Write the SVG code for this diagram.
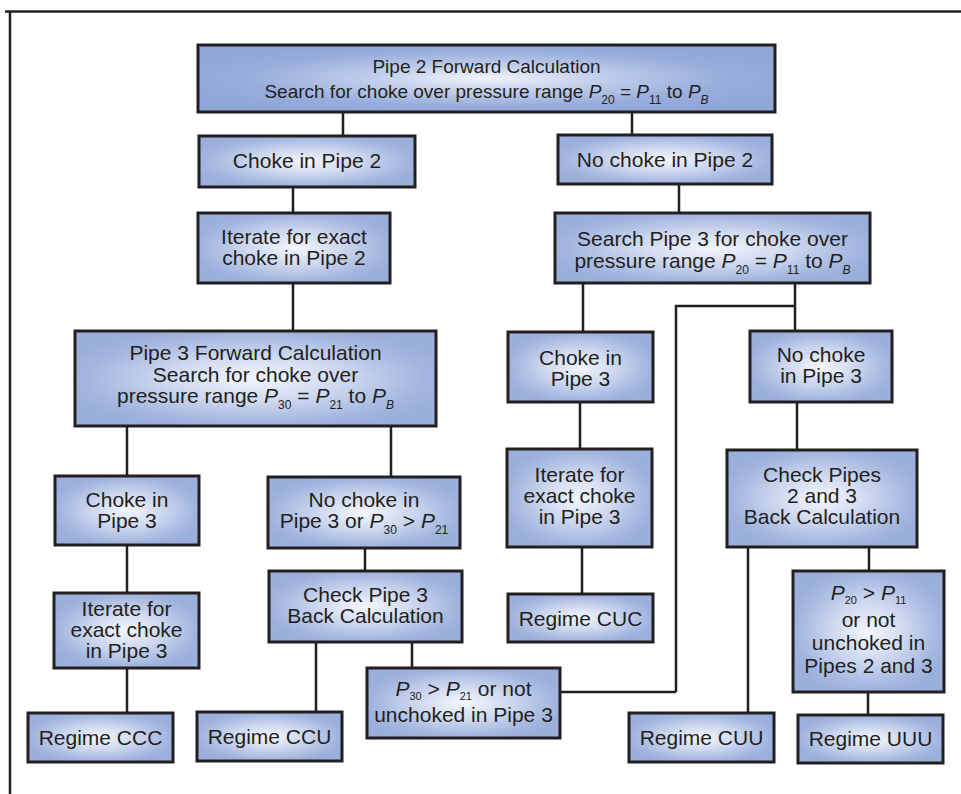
<svg xmlns="http://www.w3.org/2000/svg" width="961" height="794" viewBox="0 0 961 794">
<defs>
<radialGradient id="g" cx="0.5" cy="0.5" r="0.55">
<stop offset="0" stop-color="#f4f6fd"/>
<stop offset="0.45" stop-color="#cdd7ef"/>
<stop offset="0.85" stop-color="#a3b6df"/>
<stop offset="1" stop-color="#9aafdb"/>
</radialGradient>
<radialGradient id="gt" cx="0.5" cy="0.5" r="0.55">
<stop offset="0" stop-color="#f2f4fc"/>
<stop offset="0.35" stop-color="#c2cfec"/>
<stop offset="0.75" stop-color="#98addb"/>
<stop offset="1" stop-color="#91a7d6"/>
</radialGradient>
</defs>
<style>
.box{fill:url(#g);stroke:#231f20;stroke-width:3}
.top{fill:url(#gt)}
.ln{fill:none;stroke:#231f20;stroke-width:2.5}
text{font-family:"Liberation Sans",Arial,sans-serif;font-size:21px;fill:#231f20;text-anchor:middle}
.t19{font-size:19px}
.i{font-style:italic}
.s{font-size:12px}
.ss{font-size:11px}
</style>
<rect width="961" height="794" fill="#fff"/>
<g id="frame"><path class="ln" d="M5,11.5H961M10,11V794"/></g>
<g id="connectors">
<path class="ln" d="M343,112V136M632,112V135M293,187V213M679,184V213M293,283V331M583,283V332M795,283V331M676,692V306H795M676,692H560M127,426V476M391,426V477M580,402V449M797,402V450M127,545V593M365,548V571M127,668V713M316,642V712M412,642V668M582,547V594M748,547V713M869,547V571M868,692V715"/>
</g>
<g id="n1"><rect class="box top" x="198" y="45" width="577" height="67"/>
<text class="t19" x="486.5" y="73">Pipe 2 Forward Calculation</text>
<text class="t19" x="486.5" y="98">Search for choke over pressure range <tspan class="i">P</tspan><tspan class="s" dy="6">20</tspan><tspan dy="-6"> = </tspan><tspan class="i">P</tspan><tspan class="s" dy="6">11</tspan><tspan dy="-6"> to </tspan><tspan class="i">P</tspan><tspan class="s i" dy="6">B</tspan></text></g>
<g id="n2"><rect class="box" x="199" y="136" width="216" height="51"/><text x="307" y="168">Choke in Pipe 2</text></g>
<g id="n3"><rect class="box" x="558" y="135" width="214" height="49"/><text x="665" y="167">No choke in Pipe 2</text></g>
<g id="n4"><rect class="box" x="198" y="213" width="192" height="70"/><text x="294" y="244">Iterate for exact</text><text x="294" y="265">choke in Pipe 2</text></g>
<g id="n5"><rect class="box" x="555" y="213" width="315" height="70"/><text x="712.5" y="246">Search Pipe 3 for choke over</text>
<text x="712.5" y="268">pressure range <tspan class="i">P</tspan><tspan class="s" dy="6">20</tspan><tspan dy="-6"> = </tspan><tspan class="i">P</tspan><tspan class="s" dy="6">11</tspan><tspan dy="-6"> to </tspan><tspan class="i">P</tspan><tspan class="s i" dy="6">B</tspan></text></g>
<g id="n6"><rect class="box" x="75" y="331" width="361" height="95"/><text x="255.5" y="360">Pipe 3 Forward Calculation</text><text x="255.5" y="382">Search for choke over</text>
<text x="255.5" y="403">pressure range <tspan class="i">P</tspan><tspan class="s" dy="6">30</tspan><tspan dy="-6"> = </tspan><tspan class="i">P</tspan><tspan class="s" dy="6">21</tspan><tspan dy="-6"> to </tspan><tspan class="i">P</tspan><tspan class="s i" dy="6">B</tspan></text></g>
<g id="n7"><rect class="box" x="55" y="476" width="144" height="69"/><text x="127" y="507">Choke in</text><text x="127" y="528">Pipe 3</text></g>
<g id="n8"><rect class="box" x="268" y="477" width="192" height="71"/><text x="364" y="507">No choke in</text>
<text x="364" y="528">Pipe 3 or <tspan class="i">P</tspan><tspan class="s" dy="6">30</tspan><tspan dy="-6"> &gt; </tspan><tspan class="i">P</tspan><tspan class="s" dy="6">21</tspan></text></g>
<g id="n9"><rect class="box" x="54" y="593" width="145" height="75"/><text x="126.5" y="616">Iterate for</text><text x="126.5" y="637">exact choke</text><text x="126.5" y="658">in Pipe 3</text></g>
<g id="n10"><rect class="box" x="28" y="713" width="145" height="49"/><text x="100.5" y="745">Regime CCC</text></g>
<g id="n11"><rect class="box" x="269" y="571" width="193" height="71"/><text x="365.5" y="602">Check Pipe 3</text><text x="365.5" y="623">Back Calculation</text></g>
<g id="n12"><rect class="box" x="197" y="712" width="145" height="49"/><text x="269.5" y="744">Regime CCU</text></g>
<g id="n13"><rect class="box" x="367" y="668" width="193" height="70"/>
<text x="463.5" y="696"><tspan class="i">P</tspan><tspan class="ss" dy="4">30</tspan><tspan dy="-4"> &gt; </tspan><tspan class="i">P</tspan><tspan class="ss" dy="4">21</tspan><tspan dy="-4"> or not</tspan></text>
<text x="463.5" y="722">unchoked in Pipe 3</text></g>
<g id="n14"><rect class="box" x="508" y="332" width="145" height="70"/><text x="580.5" y="365">Choke in</text><text x="580.5" y="386">Pipe 3</text></g>
<g id="n15"><rect class="box" x="507" y="449" width="145" height="98"/><text x="579.5" y="482">Iterate for</text><text x="579.5" y="503">exact choke</text><text x="579.5" y="524">in Pipe 3</text></g>
<g id="n16"><rect class="box" x="508" y="594" width="145" height="48"/><text x="580.5" y="626">Regime CUC</text></g>
<g id="n17"><rect class="box" x="750" y="331" width="142" height="71"/><text x="821" y="362">No choke</text><text x="821" y="383">in Pipe 3</text></g>
<g id="n18"><rect class="box" x="727" y="450" width="190" height="97"/><text x="822" y="482">Check Pipes</text><text x="822" y="503">2 and 3</text><text x="822" y="524">Back Calculation</text></g>
<g id="n19"><rect class="box" x="793" y="571" width="151" height="121"/>
<text x="868.5" y="600"><tspan class="i">P</tspan><tspan class="ss" dy="4">20</tspan><tspan dy="-4"> &gt; </tspan><tspan class="i">P</tspan><tspan class="ss" dy="4">11</tspan></text>
<text x="868.5" y="627">or not</text><text x="868.5" y="650">unchoked in</text><text x="868.5" y="673">Pipes 2 and 3</text></g>
<g id="n20"><rect class="box" x="629" y="713" width="145" height="49"/><text x="701.5" y="745">Regime CUU</text></g>
<g id="n21"><rect class="box" x="798" y="715" width="145" height="48"/><text x="870.5" y="746">Regime UUU</text></g>
</svg>
